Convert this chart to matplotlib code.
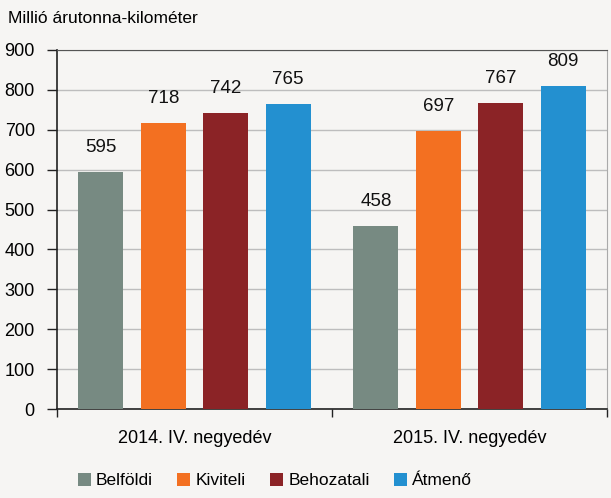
import numpy as np
import matplotlib
matplotlib.use("Agg")
import matplotlib.pyplot as plt
from matplotlib import font_manager

categories = ["2014. IV. negyedév", "2015. IV. negyedév"]
series = ["Belföldi", "Kiviteli", "Behozatali", "Átmenő"]
belfoldi = [595, 458]
kiviteli = [718, 697]
behozatali = [742, 767]
atmeno = [765, 809]
colors = ["#778A82", "#F37021", "#8B2326", "#2390D0"]

names = {f.name for f in font_manager.fontManager.ttflist}
fam = "Liberation Sans Narrow" if "Liberation Sans Narrow" in names else "Liberation Sans"
plt.rcParams["font.family"] = [fam, "DejaVu Sans"]

bg = "#F6F5F3"
fig = plt.figure(figsize=(6.11, 4.98), dpi=100, facecolor=bg)
ax = fig.add_axes([0.0933, 0.1787, 0.9002, 0.7209], facecolor=bg)

x = np.arange(len(categories))
step = 0.227
width = 0.164
values = [belfoldi, kiviteli, behozatali, atmeno]
for i, (name, vals, c) in enumerate(zip(series, values, colors)):
    pos = x + (i - 1.5) * step
    bars = ax.bar(pos, vals, width=width, color=c, label=name, zorder=3)
    for b, v in zip(bars, vals):
        ax.text(b.get_x() + b.get_width() / 2, v + 40, str(v), ha="center",
                va="bottom", fontsize=13.5, color="#111111")

ax.set_xlim(-0.5, 1.5)
ax.set_ylim(0, 900)
ax.set_yticks(range(0, 901, 100))
ax.yaxis.grid(True, color="#BDBDBD", linewidth=1.0, zorder=0)
ax.set_axisbelow(True)

ax.set_xticks([-0.5, 0.5, 1.5])
ax.set_xticklabels([])
ax.set_xticks(x, minor=True)
ax.set_xticklabels(categories, minor=True, fontsize=13)
ax.tick_params(axis="x", which="minor", length=0, pad=15)
ax.tick_params(axis="x", which="major", length=6, width=1, direction="out", color="#222222")
ax.tick_params(axis="y", length=7, width=1, direction="out", labelsize=13,
               pad=9, color="#222222")

for s in ["left", "bottom"]:
    ax.spines[s].set_color("#222222")
    ax.spines[s].set_linewidth(1.2)
ax.spines["top"].set_color("#555555")
ax.spines["right"].set_color("#AAAAAA")

fig.text(0.013, 0.962, "Millió árutonna-kilométer", fontsize=12.5, ha="left", va="center")

fig.legend(loc="lower center", bbox_to_anchor=(0.45, -0.012), ncol=4, frameon=False,
           fontsize=12.5, handlelength=0.75, handleheight=0.75, handletextpad=0.3,
           columnspacing=1.4)

fig.savefig("out.png", dpi=100, facecolor=bg)
